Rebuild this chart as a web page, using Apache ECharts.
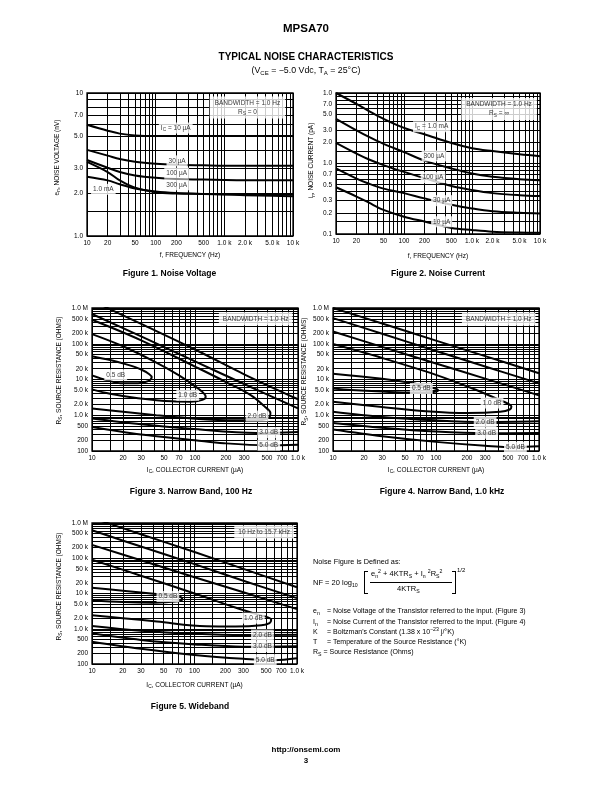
<!DOCTYPE html>
<html><head><meta charset="utf-8">
<script src="https://cdn.jsdelivr.net/npm/echarts@6/dist/echarts.min.js"></script>
<style>
body{margin:0;background:#fff;}
#page{position:relative;width:612px;height:792px;font-family:"Liberation Sans",Arial,sans-serif;color:#000;overflow:hidden;}
#chart{position:absolute;left:0;top:0;width:612px;height:792px;}
.t{position:absolute;white-space:nowrap;line-height:1;}
.c{text-align:center;}
.b{font-weight:bold;}
.sb{font-size:5.2px;position:relative;top:2px;}
.sp{font-size:5.2px;position:relative;top:-3px;}
.br{position:absolute;border:1px solid #000;}
</style></head><body>
<div id="page">
<div id="chart"></div>
<div class="t c b" style="left:0;width:612px;top:23px;font-size:11.5px;">MPSA70</div>
<div class="t c b" style="left:0;width:612px;top:51.5px;font-size:10px;">TYPICAL NOISE CHARACTERISTICS</div>
<div class="t c" style="left:0;width:612px;top:66px;font-size:8.8px;">(V<span class="sb" style="font-size:6px">CE</span> = &minus;5.0 Vdc, T<span class="sb" style="font-size:6px">A</span> = 25°C)</div>

<div class="t c b" style="left:69.5px;width:200px;top:268.5px;font-size:8.5px;">Figure 1. Noise Voltage</div>
<div class="t c b" style="left:338px;width:200px;top:268.5px;font-size:8.5px;">Figure 2. Noise Current</div>
<div class="t c b" style="left:91px;width:200px;top:486.5px;font-size:8.5px;">Figure 3. Narrow Band, 100 Hz</div>
<div class="t c b" style="left:342px;width:200px;top:486.5px;font-size:8.5px;">Figure 4. Narrow Band, 1.0 kHz</div>
<div class="t c b" style="left:90px;width:200px;top:701.5px;font-size:8.5px;">Figure 5. Wideband</div>

<div class="t" style="left:313px;top:558px;font-size:7.3px;">Noise Figure is Defined as:</div>
<div class="t" style="left:313px;top:578.5px;font-size:7.5px;">NF = 20 log<span class="sb" style="top:2.5px">10</span></div>
<div class="br" style="left:364px;top:571px;width:3px;height:21px;border-right:none;"></div>
<div class="t" style="left:371px;top:570px;font-size:7.5px;">e<span class="sb">n</span><span class="sp">2</span> + 4KTR<span class="sb">S</span> + I<span class="sb">n</span> <span class="sp">2</span>R<span class="sb">S</span><span class="sp">2</span></div>
<div style="position:absolute;left:370px;top:582px;width:82px;border-top:0.8px solid #000;"></div>
<div class="t" style="left:397px;top:585px;font-size:7.5px;">4KTR<span class="sb">S</span></div>
<div class="br" style="left:452px;top:571px;width:3px;height:21px;border-left:none;"></div>
<div class="t" style="left:457px;top:567px;font-size:6px;">1/2</div>

<div class="t" style="left:313px;top:606.5px;font-size:7px;">e<span class="sb">n</span></div>
<div class="t" style="left:327px;top:606.5px;font-size:7px;">= Noise Voltage of the Transistor referred to the input. (Figure 3)</div>
<div class="t" style="left:313px;top:617.5px;font-size:7px;">I<span class="sb">n</span></div>
<div class="t" style="left:327px;top:617.5px;font-size:7px;">= Noise Current of the Transistor referred to the input. (Figure 4)</div>
<div class="t" style="left:313px;top:627.5px;font-size:7px;">K</div>
<div class="t" style="left:327px;top:627.5px;font-size:7px;">= Boltzman's Constant (1.38 x 10<span class="sp">&minus;23</span> j/°K)</div>
<div class="t" style="left:313px;top:637.5px;font-size:7px;">T</div>
<div class="t" style="left:327px;top:637.5px;font-size:7px;">= Temperature of the Source Resistance (°K)</div>
<div class="t" style="left:313px;top:647.5px;font-size:7px;">R<span class="sb">S</span> = Source Resistance (Ohms)</div>

<div class="t c b" style="left:0;width:612px;top:746px;font-size:8px;">http://onsemi.com</div>
<div class="t c b" style="left:0;width:612px;top:757px;font-size:8px;">3</div>
</div>
<script>
// ---------- Figure 1: noise voltage (nV) vs frequency (Hz) ----------
const fig1Freq    = [10, 20, 30, 50, 100, 200, 500, 1000, 2000, 5000, 10000];
const fig1En10uA  = [6.0, 5.45, 5.2, 5.05, 5.0, 5.0, 5.0, 5.0, 5.0, 5.0, 5.0];
const fig1En30uA  = [4.0, 3.65, 3.45, 3.3, 3.2, 3.15, 3.12, 3.1, 3.1, 3.1, 3.1];
const fig1En100uA = [3.4, 3.0, 2.8, 2.65, 2.55, 2.5, 2.48, 2.46, 2.45, 2.45, 2.45];
const fig1En300uA = [3.3, 2.8, 2.45, 2.18, 2.02, 1.98, 1.97, 1.96, 1.95, 1.95, 1.95];
const fig1En1mA   = [2.6, 2.45, 2.3, 2.15, 2.05, 2.0, 1.97, 1.95, 1.93, 1.91, 1.9];

// ---------- Figure 2: noise current (pA) vs frequency (Hz) ----------
const fig2Freq    = [10, 20, 30, 50, 100, 200, 500, 1000, 2000, 5000, 10000];
const fig2In1mA   = [10, 7.0, 5.6, 4.3, 3.2, 2.6, 1.95, 1.65, 1.5, 1.35, 1.27];
const fig2In300uA = [4.3, 2.95, 2.4, 1.9, 1.45, 1.1, 0.85, 0.72, 0.65, 0.6, 0.58];
const fig2In100uA = [1.96, 1.38, 1.15, 0.95, 0.76, 0.62, 0.48, 0.42, 0.38, 0.355, 0.345];
const fig2In30uA  = [0.85, 0.61, 0.52, 0.44, 0.38, 0.32, 0.26, 0.23, 0.21, 0.2, 0.196];
const fig2In10uA  = [0.46, 0.34, 0.28, 0.22, 0.176, 0.15, 0.122, 0.114, 0.108, 0.105, 0.104];

// ---------- Figure 3: narrow band 100 Hz, contours [Ic (uA), Rs (ohm)] ----------
const nb100_05  = [[10,4.5e4],[15,3.5e4],[22,2.6e4],[30,1.9e4],[36,1.4e4],[38,1.15e4],[35,9e3],[28,7.8e3],[20,7.8e3],[14,9.5e3],[10,1.3e4]];
const nb100_10  = [[10,1.86e5],[20,8.5e4],[40,3.2e4],[70,1.3e4],[100,6.5e3],[120,4.3e3],[127,3.3e3],[118,2.7e3],[90,2.4e3],[60,2.45e3],[28,3.0e3],[15,4e3],[10,5.3e3]];
const nb100_20  = [[10,4.7e5],[30,1.25e5],[100,2.3e4],[200,8.5e3],[350,3.6e3],[480,1.7e3],[540,1.15e3],[530,900],[450,740],[250,720],[100,800],[42,1e3],[20,1.25e3],[10,1.55e3]];
const nb100_30u = [[10,6.8e5],[30,1.6e5],[100,3.2e4],[300,7.5e3],[1000,1.55e3]];
const nb100_30l = [[10,815],[30,560],[90,420],[400,320],[1000,340]];
const nb100_50u = [[10,1.6e6],[30,3.6e5],[100,6.9e4],[300,1.4e4],[1000,2.8e3]];
const nb100_50l = [[10,470],[30,290],[100,200],[190,165],[500,145],[1000,150]];

// ---------- Figure 4: narrow band 1.0 kHz ----------
const nb1k_05  = [[10,1.45e4],[30,1.05e4],[60,7.8e3],[85,6.2e3],[102,5.4e3],[105,4.9e3],[95,4.5e3],[60,4.3e3],[30,4.6e3],[15,5.1e3],[10,5.6e3]];
const nb1k_10  = [[10,9.8e4],[30,4e4],[100,1.35e4],[250,5e3],[400,2.8e3],[500,2.1e3],[540,1.75e3],[520,1.45e3],[420,1.25e3],[200,1.15e3],[80,1.3e3],[30,1.7e3],[10,2.4e3]];
const nb1k_20u = [[10,2.2e5],[30,8.2e4],[100,2.8e4],[300,1.06e4],[1000,3.6e3]];
const nb1k_20l = [[10,1.26e3],[30,900],[100,720],[300,650],[1000,680]];
const nb1k_30u = [[10,5.2e5],[30,1.9e5],[100,6.3e4],[300,2.3e4],[1000,7.8e3]];
const nb1k_30l = [[10,610],[30,450],[100,350],[300,315],[1000,320]];
const nb1k_50u = [[10,1.0e6],[30,3.7e5],[100,1.22e5],[300,4.5e4],[1000,1.5e4]];
const nb1k_50l = [[10,400],[30,260],[100,180],[300,140],[600,128],[1000,135]];

// ---------- Figure 5: wideband 10 Hz to 15.7 kHz ----------
const wb_05  = [[10,1.45e4],[20,1.2e4],[40,9.8e3],[60,8.6e3],[74,7.8e3],[76,6.8e3],[65,5.9e3],[40,5.5e3],[20,5.7e3],[10,6.3e3]];
const wb_10  = [[10,9.1e4],[30,3.2e4],[100,1e4],[250,4e3],[400,2.6e3],[520,2.1e3],[560,1.8e3],[540,1.45e3],[450,1.25e3],[250,1.15e3],[130,1.17e3],[43,1.6e3],[20,2e3],[10,2.4e3]];
const wb_20u = [[10,2.4e5],[30,8.8e4],[100,2.9e4],[300,1.08e4],[1000,3.6e3]];
const wb_20l = [[10,1.2e3],[30,880],[100,720],[300,660],[1000,680]];
const wb_30u = [[10,6.2e5],[30,2.15e5],[100,6.8e4],[300,2.3e4],[1000,7.4e3]];
const wb_30l = [[10,740],[30,480],[100,360],[300,310],[1000,320]];
const wb_50u = [[10,1.4e6],[30,4.8e5],[100,1.5e5],[300,5e4],[1000,1.5e4]];
const wb_50l = [[10,430],[30,270],[100,180],[300,140],[600,128],[1000,145]];

// ---------- tick labels and grid values ----------
const freqLabelVals = [10, 20, 50, 100, 200, 500, 1000, 2000, 5000, 10000];
const freqLabelText = ['10','20','50','100','200','500','1.0 k','2.0 k','5.0 k','10 k'];
const freqGridVals  = [10,20,30,40,50,60,70,80,90,100,200,300,400,500,600,700,800,900,1000,2000,3000,4000,5000,6000,7000,8000,9000,10000];
const fig1YLabelVals = [1, 2, 3, 5, 7, 10];
const fig1YLabelText = ['1.0','2.0','3.0','5.0','7.0','10'];
const fig1YGridVals  = [1, 1.5, 2, 3, 4, 5, 6, 7, 8, 9, 10];
const fig2YLabelVals = [0.1, 0.2, 0.3, 0.5, 0.7, 1, 2, 3, 5, 7, 10];
const fig2YLabelText = ['0.1','0.2','0.3','0.5','0.7','1.0','2.0','3.0','5.0','7.0','1.0'];
const fig2YGridVals  = [0.1,0.15,0.2,0.3,0.4,0.5,0.6,0.7,0.8,0.9,1,1.5,2,3,4,5,6,7,8,9,10];
const icLabelVals = [10, 20, 30, 50, 70, 100, 200, 300, 500, 700, 1000];
const icLabelText = ['10','20','30','50','70','100','200','300','500','700','1.0 k'];
const icGridVals  = [10,15,20,30,40,50,60,70,80,90,100,150,200,300,400,500,600,700,800,900,1000];
const rsLabelVals = [100, 200, 500, 1e3, 2e3, 5e3, 1e4, 2e4, 5e4, 1e5, 2e5, 5e5, 1e6];
const rsLabelText = ['100','200','500','1.0 k','2.0 k','5.0 k','10 k','20 k','50 k','100 k','200 k','500 k','1.0 M'];
const rsGridVals  = [100,200,300,400,500,600,700,800,900,1e3,2e3,3e3,4e3,5e3,6e3,7e3,8e3,9e3,1e4,2e4,3e4,4e4,5e4,6e4,7e4,8e4,9e4,1e5,2e5,3e5,4e5,5e5,6e5,7e5,8e5,9e5,1e6];

// ---------- rendering ----------
const FONT = "'Liberation Sans', Arial, sans-serif";
const RICH = {
  m: {fontSize: 6.5, fontFamily: FONT, color: '#000', lineHeight: 9},
  s: {fontSize: 4.8, fontFamily: FONT, color: '#000', verticalAlign: 'bottom', lineHeight: 6}
};
function lookupLabel(v, vals, texts) {
  for (let i = 0; i < vals.length; i++) {
    if (Math.abs(Math.log10(v) - Math.log10(vals[i])) < 1e-4) return texts[i];
  }
  return '';
}
function mkAxis(gi, min, max, gridVals, labVals, labTexts, name, gap, shift) {
  return {
    type: 'log', logBase: 10, gridIndex: gi, min: min, max: max, silent: true,
    axisLine: {show: false},
    axisTick: {show: false, customValues: gridVals},
    minorTick: {show: false}, minorSplitLine: {show: false},
    splitLine: {show: true, lineStyle: {color: '#000', width: 1}},
    axisLabel: {show: true, customValues: labVals, interval: 0, hideOverlap: false,
      formatter: function (v) { return lookupLabel(v, labVals, labTexts); },
      fontSize: 6.5, fontFamily: FONT, color: '#000', margin: 4},
    name: name, nameLocation: 'middle', nameGap: gap,
    nameTextStyle: {fontSize: 6.5, fontFamily: FONT, color: '#000', rich: RICH,
      padding: [0, 0, 0, shift || 0]}
  };
}
function zip(xs, ys) { return xs.map(function (x, i) { return [x, ys[i]]; }); }
function curve(gi, data) {
  return {type: 'line', xAxisIndex: gi, yAxisIndex: gi, data: data, showSymbol: false, symbol: 'none',
    smooth: 0.35, clip: true, silent: true, animation: false, z: 3,
    lineStyle: {color: '#000', width: 2}};
}
function notes(gi, items, pad) {
  return {type: 'scatter', xAxisIndex: gi, yAxisIndex: gi, symbolSize: 1, silent: true, animation: false, z: 10,
    itemStyle: {color: 'rgba(0,0,0,0)'},
    data: items.map(function (it) { return {value: [it[0], it[1]], label: {formatter: it[2]}}; }),
    label: {show: true, position: 'inside', color: '#000', fontSize: 6.5, fontFamily: FONT,
      backgroundColor: '#fff', padding: pad || [1, 2], rich: RICH, align: 'center'}};
}

// label positions (data coordinates) for the in-plot annotations
const fig1Notes = [[196, 5.69, '{m|I}{s|C}{m| = 10 \u00b5A}'], [205, 3.35, '{m|30 \u00b5A}'], [202, 2.75, '{m|100 \u00b5A}'], [202, 2.28, '{m|300 \u00b5A}'], [17.3, 2.12, '{m|1.0 mA}']];
const fig1Box   = [[2170, 7.93, '{m|BANDWIDTH = 1.0 Hz}\n{m|R}{s|S}{m| = 0}']];
const fig2Notes = [[255, 3.33, '{m|I}{s|C}{m| = 1.0 mA}'], [276, 1.28, '{m|300 \u00b5A}'], [267, 0.63, '{m|100 \u00b5A}'], [358, 0.297, '{m|30 \u00b5A}'], [358, 0.149, '{m|10 \u00b5A}']];
const fig2Box   = [[2500, 5.93, '{m|BANDWIDTH = 1.0 Hz}\n{m|R}{s|S}{m| = \u221e}']];
const fig3Notes = [[17, 1.35e4, '{m|0.5 dB}'], [85, 3.6e3, '{m|1.0 dB}'], [400, 950, '{m|2.0 dB}'], [520, 325, '{m|3.0 dB}'], [520, 145, '{m|5.0 dB}']];
const fig3Box   = [[388, 5.0e5, '{m|BANDWIDTH = 1.0 Hz}']];
const fig4Notes = [[72, 5.6e3, '{m|0.5 dB}'], [350, 2.2e3, '{m|1.0 dB}'], [300, 650, '{m|2.0 dB}'], [310, 315, '{m|3.0 dB}'], [590, 128, '{m|5.0 dB}']];
const fig4Box   = [[406, 4.9e5, '{m|BANDWIDTH = 1.0 Hz}']];
const fig5Notes = [[55, 8.2e3, '{m|0.5 dB}'], [375, 2e3, '{m|1.0 dB}'], [460, 660, '{m|2.0 dB}'], [460, 310, '{m|3.0 dB}'], [490, 132, '{m|5.0 dB}']];
const fig5Box   = [[478, 5.6e5, '{m|10 Hz to 15.7 kHz}']];

const gridBase = {show: true, borderColor: '#000', borderWidth: 1.3, backgroundColor: 'rgba(0,0,0,0)', containLabel: false, outerBoundsMode: 'none'};
const grids = [
  {left: 87, top: 93, width: 206, height: 143},
  {left: 336, top: 93, width: 204, height: 141},
  {left: 92, top: 308, width: 206, height: 143},
  {left: 333, top: 308, width: 206, height: 143},
  {left: 92, top: 523, width: 205, height: 141}
].map(function (g) { return Object.assign({}, gridBase, g); });

const freqName = '{m|f, FREQUENCY (Hz)}';
const icName = '{m|I}{s|C}{m|, COLLECTOR CURRENT (\u00b5A)}';
const rsName = '{m|R}{s|S}{m|, SOURCE RESISTANCE (OHMS)}';

const xAxes = [
  mkAxis(0, 10, 10000, freqGridVals, freqLabelVals, freqLabelText, freqName, 14.5),
  mkAxis(1, 10, 10000, freqGridVals, freqLabelVals, freqLabelText, freqName, 17.5),
  mkAxis(2, 10, 1000, icGridVals, icLabelVals, icLabelText, icName, 14.5),
  mkAxis(3, 10, 1000, icGridVals, icLabelVals, icLabelText, icName, 14.5),
  mkAxis(4, 10, 1000, icGridVals, icLabelVals, icLabelText, icName, 16.5)
];
const yAxes = [
  mkAxis(0, 1, 10, fig1YGridVals, fig1YLabelVals, fig1YLabelText, '{m|e}{s|n}{m|, NOISE VOLTAGE (nV)}', 25.5, 14),
  mkAxis(1, 0.1, 10, fig2YGridVals, fig2YLabelVals, fig2YLabelText, '{m|i}{s|n}{m|, NOISE CURRENT (pA)}', 20, 6),
  mkAxis(2, 100, 1e6, rsGridVals, rsLabelVals, rsLabelText, rsName, 28.5, 18),
  mkAxis(3, 100, 1e6, rsGridVals, rsLabelVals, rsLabelText, rsName, 21, 16),
  mkAxis(4, 100, 1e6, rsGridVals, rsLabelVals, rsLabelText, rsName, 28.5, 14)
];

const series = [
  curve(0, zip(fig1Freq, fig1En10uA)), curve(0, zip(fig1Freq, fig1En30uA)), curve(0, zip(fig1Freq, fig1En100uA)),
  curve(0, zip(fig1Freq, fig1En300uA)), curve(0, zip(fig1Freq, fig1En1mA)),
  curve(1, zip(fig2Freq, fig2In1mA)), curve(1, zip(fig2Freq, fig2In300uA)), curve(1, zip(fig2Freq, fig2In100uA)),
  curve(1, zip(fig2Freq, fig2In30uA)), curve(1, zip(fig2Freq, fig2In10uA)),
  curve(2, nb100_05), curve(2, nb100_10), curve(2, nb100_20), curve(2, nb100_30u), curve(2, nb100_30l), curve(2, nb100_50u), curve(2, nb100_50l),
  curve(3, nb1k_05), curve(3, nb1k_10), curve(3, nb1k_20u), curve(3, nb1k_20l), curve(3, nb1k_30u), curve(3, nb1k_30l), curve(3, nb1k_50u), curve(3, nb1k_50l),
  curve(4, wb_05), curve(4, wb_10), curve(4, wb_20u), curve(4, wb_20l), curve(4, wb_30u), curve(4, wb_30l), curve(4, wb_50u), curve(4, wb_50l),
  notes(0, fig1Notes), notes(0, fig1Box, [2, 5]),
  notes(1, fig2Notes), notes(1, fig2Box, [2, 5]),
  notes(2, fig3Notes), notes(2, fig3Box, [2, 4]),
  notes(3, fig4Notes), notes(3, fig4Box, [2, 4]),
  notes(4, fig5Notes), notes(4, fig5Box, [2, 4])
];

const chart = echarts.init(document.getElementById('chart'), null, {renderer: 'canvas'});
chart.setOption({
  animation: false,
  backgroundColor: '#fff',
  grid: grids,
  xAxis: xAxes,
  yAxis: yAxes,
  series: series
});
</script>
</body></html>
